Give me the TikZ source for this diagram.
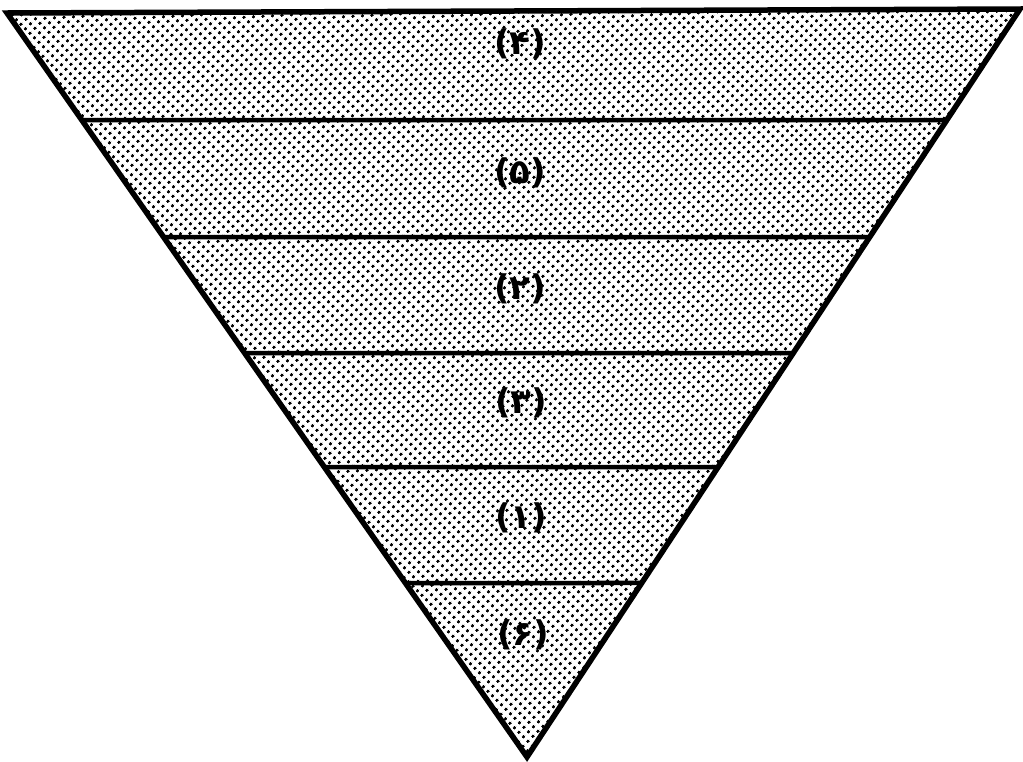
\documentclass[tikz,border=0pt]{standalone}
\usepackage{fontspec}
\newfontfamily\arabicfont[Script=Arabic]{DejaVu Sans}
\usetikzlibrary{calc,patterns.meta}
\tikzset{
  layerline/.style={line width=4.5pt, line cap=butt},
  rim/.style={line width=5.5pt, line join=miter},
  lab/.style={font=\arabicfont\bfseries\fontsize{34}{40}\selectfont, inner sep=0pt},
  halftone/.style={pattern={Dots[distance=6.5pt, radius=1.7pt, angle=45]}, pattern color=black}
}
\begin{document}
\begin{tikzpicture}[x=1pt,y=-1pt]
\useasboundingbox (0,0) rectangle (1023,761);
\coordinate (TL) at (7,13);
\coordinate (TR) at (1020,9);
\coordinate (A) at (527,757);
\fill[white] (TL) -- (TR) -- (A) -- cycle;
\fill[halftone] (TL) -- (TR) -- (A) -- cycle;
\foreach \yy/\nm in {120/a,237/b,353/c,467/d,583/e}{
  \coordinate (L\nm) at ($(TL)!{(\yy-13)/744}!(A)$);
  \coordinate (R\nm) at ($(TR)!{(\yy-9)/748}!(A)$);
  \draw[layerline] (L\nm) -- (R\nm);
}
\draw[rim] (TL) -- (TR) -- (A) -- cycle;
\node[lab] (n4) at (520,44) {(۴)};
\node[lab] (n5) at (520,173) {(۵)};
\node[lab] (n2) at (520,289) {(۲)};
\node[lab] (n3) at (521,403) {(۳)};
\node[lab] (n1) at (521,518) {(۱)};
\node[lab] (n6) at (523,635) {(۶)};
\end{tikzpicture}
\end{document}
